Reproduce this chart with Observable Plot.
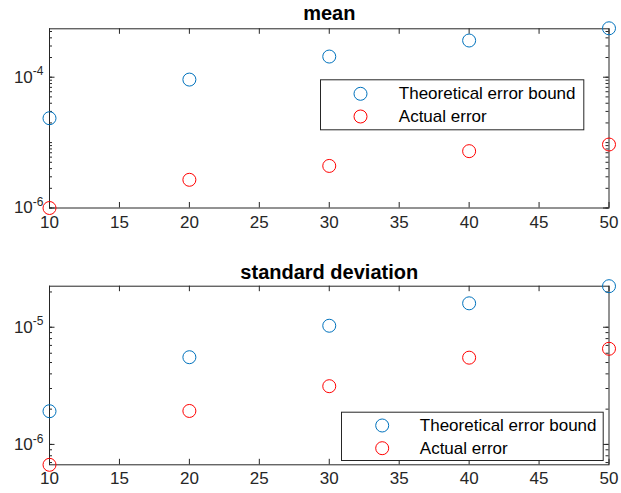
<!DOCTYPE html>
<html><head><meta charset="utf-8">
<script src="https://cdn.jsdelivr.net/npm/d3@7"></script>
<script src="https://cdn.jsdelivr.net/npm/@observablehq/plot@0.6"></script>
<style>
html,body{margin:0;padding:0;background:#fff;}
#chart svg{display:block;}
</style></head><body><div id="chart"></div>
<script>
// ---- data ----
const n = [10, 20, 30, 40, 50];
const seriesNames = ["Theoretical error bound", "Actual error"];
const seriesColors = ["#0072BD", "#FF0000"];
const meanBound  = [2.36e-5, 9.2e-5, 2.07e-4, 3.64e-4, 5.6e-4];
const meanActual = [1.0e-6, 2.7e-6, 4.4e-6, 7.4e-6, 9.35e-6];
const sdBound    = [1.92e-6, 5.55e-6, 1.03e-5, 1.6e-5, 2.24e-5];
const sdActual   = [6.7e-7, 1.93e-6, 3.14e-6, 5.5e-6, 6.55e-6];
const xTicks = [10, 15, 20, 25, 30, 35, 40, 45, 50];
const meanYTicks = [1e-6, 1e-4];
const sdYTicks = [1e-6, 1e-5];
const meanDomain = [1e-6, 5.5e-4];
const sdDomain = [6.7e-7, 2.24e-5];

const FONT = "'Liberation Sans', Arial, Helvetica, sans-serif";
const AX = "#262626";

function minorTicks([lo, hi]) {
  const out = [];
  for (let e = Math.floor(Math.log10(lo)); e <= Math.ceil(Math.log10(hi)); e++)
    for (let k = 1; k < 10; k++) {
      const v = k * Math.pow(10, e);
      if (v >= lo * 0.999 && v <= hi * 1.001) out.push(v);
    }
  return out;
}

function panel(cfg) {
  const data = [];
  n.forEach((x, i) => {
    data.push({n: x, value: cfg.bound[i], series: seriesNames[0]});
    data.push({n: x, value: cfg.actual[i], series: seriesNames[1]});
  });
  const W = 621 - cfg.ml - cfg.mr;
  const H = cfg.height - cfg.mt - cfg.mb;
  const minor = minorTicks(cfg.domain);
  const lg = cfg.legend;
  const marks = [
    Plot.frame({stroke: AX, strokeWidth: 1}),
    Plot.tickX(xTicks, {x: d => d, insetTop: H - 5.5, stroke: AX}),
    Plot.tickX(xTicks, {x: d => d, insetBottom: H - 5.5, stroke: AX}),
    Plot.tickY(minor, {y: d => d, insetRight: W - 3, stroke: AX}),
    Plot.tickY(minor, {y: d => d, insetLeft: W - 3, stroke: AX}),
    Plot.tickY(cfg.yTicks, {y: d => d, insetRight: W - 5.5, stroke: AX}),
    Plot.tickY(cfg.yTicks, {y: d => d, insetLeft: W - 5.5, stroke: AX}),
    Plot.axisX({ticks: xTicks, tickSize: 0, tickPadding: 7.5, label: null, fill: AX, tickFormat: d => String(d)}),
    Plot.axisY({ticks: cfg.yTicks, tickSize: 0, tickPadding: 6, label: null, fill: AX,
      tickFormat: d => "10^" + Math.round(Math.log10(d))}),
    Plot.dot(data, {x: "n", y: "value", stroke: "series", r: 6.5, strokeWidth: 1, fill: "none"}),
    Plot.frame({fill: "white", stroke: AX, strokeWidth: 1,
      insetLeft: lg.left, insetRight: lg.right, insetTop: lg.top, insetBottom: lg.bottom}),
    Plot.text([cfg.title], {text: d => d, frameAnchor: "top", dy: -cfg.titleGap, lineAnchor: "bottom",
      fontWeight: "bold", fontSize: 20, fill: "#000"})
  ];
  seriesNames.forEach((name, i) => {
    marks.push(Plot.dot([name], {frameAnchor: "top-left", dx: lg.dotX, dy: lg.rows[i],
      stroke: () => name, r: 6.5, strokeWidth: 1, fill: "none"}));
    marks.push(Plot.text([name], {text: d => d, frameAnchor: "top-left", dx: lg.textX, dy: lg.rows[i],
      textAnchor: "start", lineAnchor: "middle", fontSize: 17, fill: "#000"}));
  });
  const svg = Plot.plot({
    width: 621, height: cfg.height,
    marginLeft: cfg.ml, marginRight: cfg.mr, marginTop: cfg.mt, marginBottom: cfg.mb,
    style: {fontFamily: FONT, fontSize: "17px", background: "white", overflow: "visible"},
    x: {domain: [10, 50]},
    y: {type: "log", domain: cfg.domain},
    color: {domain: seriesNames, range: seriesColors},
    marks
  });
  // superscript exponents on y tick labels
  d3.select(svg).selectAll("text").each(function () {
    const t = this.textContent;
    const m = /^10\^(-?\d+)$/.exec(t);
    if (!m) return;
    const sel = d3.select(this);
    sel.text(null);
    sel.append("tspan").text("10");
    sel.append("tspan").attr("font-size", 12).attr("dy", "-0.6em").text(m[1]);
  });
  return svg;
}

const chart = document.getElementById("chart");
chart.appendChild(panel({
  title: "mean", bound: meanBound, actual: meanActual, domain: meanDomain, yTicks: meanYTicks,
  height: 250, ml: 49, mr: 12.5, mt: 28.3, mb: 42.5, titleGap: 8.5,
  legend: {left: 271, right: 25.2, top: 51, bottom: 78.2, dotX: 311, textX: 349.3, rows: [65, 87.7]}
}));
chart.appendChild(panel({
  title: "standard deviation", bound: sdBound, actual: sdActual, domain: sdDomain, yTicks: sdYTicks,
  height: 243, ml: 49, mr: 12.5, mt: 35.7, mb: 28.7, titleGap: 7.5,
  legend: {left: 292, right: 5.8, top: 126, bottom: 4.3, dotX: 332.7, textX: 370.3, rows: [139.3, 162]}
}));
</script></body></html>
